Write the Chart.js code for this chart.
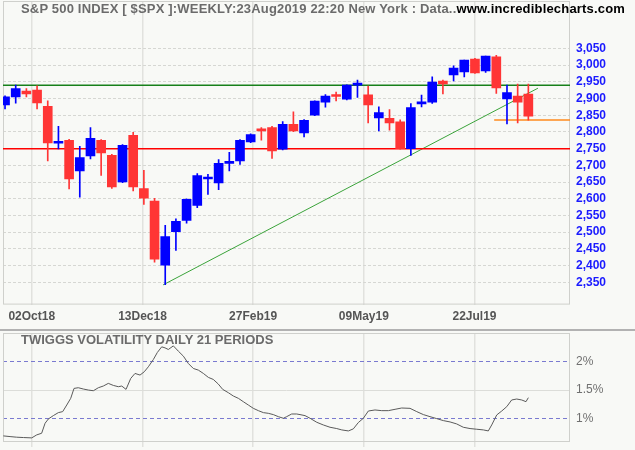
<!DOCTYPE html>
<html>
<head>
<meta charset="utf-8">
<script src="https://cdn.jsdelivr.net/npm/chart.js@4.4.0/dist/chart.umd.min.js"></script>
<style>
  html, body { margin: 0; padding: 0; background: #f8f9f6; }
  #wrap { position: relative; width: 635px; height: 450px; overflow: hidden; font-family: "Liberation Sans", Arial, sans-serif; }
  #price { position: absolute; left: 0; top: 0; }
  #vol { position: absolute; left: 0; top: 331px; }
  #sep { position: absolute; left: 0; top: 329px; width: 635px; height: 2px; background: #b2b2b2; }
  .title { position: absolute; left: 21px; font-weight: bold; font-size: 13px; line-height: 13px; color: #6b6b6b; white-space: nowrap; }
</style>
</head>
<body>
<div id="wrap">
  <canvas id="price" width="635" height="331"></canvas>
  <div id="sep"></div>
  <canvas id="vol" width="635" height="119"></canvas>
  <div class="title" style="top:2px; letter-spacing:0.18px">S&amp;P 500 INDEX [ $SPX ]:WEEKLY:23Aug2019 22:20 New York : Data..<span style="color:#000">www.incrediblecharts.com</span></div>
  <div class="title" style="top:333px">TWIGGS VOLATILITY DAILY 21 PERIODS</div>
</div>
<script>
// weekly candles, Sep 2018 - 23 Aug 2019
const opens  = [2881, 2905, 2922, 2925, 2877, 2766, 2775, 2683, 2728, 2775,
                2730, 2650, 2790, 2630, 2593, 2401, 2501, 2535, 2580, 2659,
                2647, 2706, 2713, 2770, 2806, 2813, 2748, 2823, 2797, 2850,
                2889, 2908, 2898, 2940, 2911, 2842, 2841, 2830, 2750, 2884,
                2889, 2952, 2971, 2980, 3018, 2983, 3025, 2899, 2907, 2913];
const highs  = [2908, 2940, 2930, 2938, 2893, 2817, 2778, 2757, 2813, 2777,
                2733, 2762, 2799, 2685, 2601, 2520, 2540, 2600, 2675, 2673,
                2717, 2739, 2777, 2794, 2813, 2817, 2831, 2860, 2837, 2893,
                2912, 2919, 2941, 2955, 2937, 2875, 2867, 2836, 2885, 2910,
                2965, 2955, 2998, 3015, 3020, 3027, 3029, 2940, 2943, 2943];
const lows   = [2869, 2886, 2905, 2869, 2713, 2749, 2629, 2605, 2719, 2670,
                2631, 2648, 2623, 2583, 2410, 2343, 2445, 2527, 2573, 2613,
                2627, 2683, 2703, 2768, 2775, 2721, 2746, 2801, 2785, 2849,
                2874, 2893, 2896, 2903, 2827, 2803, 2805, 2748, 2730, 2875,
                2885, 2914, 2953, 2965, 2975, 2978, 2915, 2824, 2827, 2835];
const closes = [2905, 2930, 2914, 2887, 2767, 2768, 2659, 2723, 2781, 2737,
                2635, 2760, 2635, 2602, 2419, 2487, 2532, 2598, 2669, 2665,
                2706, 2709, 2775, 2792, 2803, 2743, 2823, 2803, 2835, 2892,
                2907, 2906, 2940, 2945, 2881, 2858, 2827, 2750, 2873, 2886,
                2949, 2944, 2991, 3015, 2977, 3027, 2932, 2918, 2889, 2847];

const priceTicks = [2350, 2400, 2450, 2500, 2550, 2600, 2650, 2700, 2750, 2800, 2850, 2900, 2950, 3000, 3050];
const tickLabels = ['02Oct18', '13Dec18', '27Feb19', '09May19', '22Jul19'];
const tickWeeks  = [2.5, 12.87, 23.23, 33.6, 43.96];

const resistance = 2940;
const support = 2750;
const lastLow = 2836;
const trendFrom = { x: 14.8, y: 2342 };
const trendTo   = { x: 49.9, y: 2931 };

// Twiggs volatility, daily 21 periods (x in weeks)
const volWeek = [-0.16, 0.47, 1.09, 1.72, 2.5, 2.97, 3.43, 3.75, 4.06, 4.52,
                 4.99, 5.4, 5.78, 6.15, 6.46, 6.86, 7.33, 7.8, 8.27, 8.74,
                 9.2, 9.67, 10.14, 10.61, 10.93, 11.33, 11.77, 12.17, 12.64, 13.04,
                 13.42, 13.89, 14.26, 14.67, 14.98, 15.29, 15.76, 16.23, 16.7, 17.16,
                 17.63, 18.1, 18.57, 19.04, 19.5, 19.97, 20.38, 20.91, 21.38, 21.85,
                 22.31, 22.78, 23.25, 23.72, 24.19, 24.65, 25.12, 25.59, 26.06, 26.37,
                 26.84, 27.31, 27.62, 28.09, 28.56, 29.19, 29.8, 30.43, 31.06, 31.53,
                 32.15, 32.61, 33.08, 33.55, 34.02, 34.64, 35.27, 35.89, 36.52, 37.14,
                 37.92, 38.55, 39.17, 39.79, 40.42, 41.04, 41.67, 42.29, 42.91, 43.54,
                 44.17, 44.79, 45.25, 45.57, 46.04, 46.51, 46.98, 47.44, 47.91, 48.38,
                 48.78, 49.0];
const volPct  = [0.688, 0.676, 0.665, 0.659, 0.653, 0.706, 0.735, 0.912, 0.988, 1.047,
                 1.10, 1.118, 1.235, 1.353, 1.529, 1.541, 1.518, 1.50, 1.488, 1.541,
                 1.571, 1.618, 1.582, 1.559, 1.571, 1.512, 1.706, 1.794, 1.765, 1.824,
                 1.912, 2.041, 2.165, 2.265, 2.247, 2.218, 2.282, 2.188, 2.10, 1.971,
                 1.882, 1.853, 1.794, 1.724, 1.688, 1.606, 1.512, 1.453, 1.394, 1.353,
                 1.294, 1.235, 1.176, 1.135, 1.10, 1.088, 1.065, 1.029, 1.0, 1.029,
                 1.076, 1.076, 1.065, 1.047, 1.0, 0.929, 0.882, 0.841, 0.818, 0.794,
                 0.776, 0.812, 0.924, 1.0, 1.129, 1.147, 1.135, 1.135, 1.159, 1.182,
                 1.176, 1.118, 1.065, 1.029, 0.994, 0.959, 0.935, 0.90, 0.841, 0.818,
                 0.806, 0.794, 0.776, 0.882, 1.059, 1.129, 1.206, 1.324, 1.341, 1.324,
                 1.294, 1.365];
const volTicks = [1, 1.5, 2];

const FONT = '"Liberation Sans", Arial, sans-serif';
const UP = '#0000ff';
const DOWN = '#ff3535';
const X_MIN = -0.19, X_MAX = 52.9;

const candleColors = opens.map((o, i) => closes[i] >= o ? UP : DOWN);

const framePlugin = {
    id: 'frame',
    beforeDatasetsDraw(chart) {
        const { ctx, chartArea: a } = chart;
        ctx.save();
        ctx.strokeStyle = '#cfd0cc';
        ctx.lineWidth = 1;
        ctx.strokeRect(a.left + 0.5, a.top + 0.5, a.right - a.left - 1, a.bottom - a.top - 1);
        ctx.restore();
    }
};

// stop the axes from reserving room for half a label at each end
function noEdgePadding(s) {
    s.paddingTop = 0;
    s.paddingBottom = 0;
    s.paddingLeft = 0;
    s.paddingRight = 0;
}

function xScale(showLabels) {
    return {
        type: 'linear',
        min: X_MIN,
        max: X_MAX,
        offset: false,
        afterBuildTicks: s => { s.ticks = tickWeeks.map(v => ({ value: v })); },
        afterFit: noEdgePadding,
        ticks: {
            display: showLabels,
            autoSkip: false,
            maxRotation: 0,
            color: '#555',
            padding: 5,
            font: { family: FONT, size: 12, weight: 'bold' },
            callback: (v, i) => tickLabels[i]
        },
        grid: { color: '#e1e2de', lineWidth: 1.5, offset: false, drawTicks: !showLabels, tickLength: 5 },
        border: { display: false }
    };
}

new Chart(document.getElementById('price'), {
    type: 'bar',
    data: {
        datasets: [
            {
                data: opens.map((o, i) => ({ x: i, y: [o, closes[i]] })),
                backgroundColor: candleColors,
                barThickness: 9,
                minBarLength: 2,
                grouped: false
            },
            {
                data: lows.map((l, i) => ({ x: i, y: [l, highs[i]] })),
                backgroundColor: candleColors,
                barThickness: 1,
                grouped: false
            },
            {
                type: 'line',
                data: [{ x: X_MIN, y: resistance }, { x: X_MAX, y: resistance }],
                borderColor: '#17801a', borderWidth: 1.5, pointRadius: 0
            },
            {
                type: 'line',
                data: [{ x: X_MIN, y: support }, { x: X_MAX, y: support }],
                borderColor: '#ff0000', borderWidth: 1.5, pointRadius: 0
            },
            {
                type: 'line',
                data: [{ x: 45.8, y: lastLow }, { x: X_MAX, y: lastLow }],
                borderColor: '#ff8a1c', borderWidth: 1.5, pointRadius: 0
            },
            {
                type: 'line',
                data: [trendFrom, trendTo],
                borderColor: '#3aa33a', borderWidth: 1, pointRadius: 0
            }
        ]
    },
    options: {
        responsive: false,
        animation: false,
        layout: { padding: { left: 3, top: 1, right: 0, bottom: 2 } },
        plugins: { legend: { display: false }, tooltip: { enabled: false } },
        scales: {
            x: xScale(true),
            y: {
                position: 'right',
                min: 2283,
                max: 3192,
                afterBuildTicks: s => { s.ticks = priceTicks.map(v => ({ value: v })); },
                afterFit: s => { s.width = 65; noEdgePadding(s); },
                ticks: {
                    color: '#1a1aff',
                    padding: 6,
                    font: { family: FONT, size: 12, weight: 'bold' },
                    callback: v => v.toLocaleString('en-US')
                },
                grid: { color: '#d6d7d3', lineWidth: 1, drawTicks: false },
                border: { display: false, dash: [3, 2] }
            }
        }
    },
    plugins: [framePlugin]
});

new Chart(document.getElementById('vol'), {
    type: 'line',
    data: {
        datasets: [{
            data: volWeek.map((w, i) => ({ x: w, y: volPct[i] })),
            borderColor: '#5a5a5a',
            borderWidth: 1,
            pointRadius: 0,
            tension: 0
        }]
    },
    options: {
        responsive: false,
        animation: false,
        layout: { padding: { left: 3, top: 2, right: 0, bottom: 3 } },
        plugins: { legend: { display: false }, tooltip: { enabled: false } },
        scales: {
            x: xScale(false),
            y: {
                position: 'right',
                min: 0.58,
                max: 2.51,
                afterBuildTicks: s => { s.ticks = volTicks.map(v => ({ value: v })); },
                afterFit: s => { s.width = 65; noEdgePadding(s); },
                ticks: {
                    color: '#707070',
                    padding: 6,
                    font: { family: FONT, size: 12 },
                    callback: v => v + '%'
                },
                grid: {
                    color: c => (c.tick && c.tick.value === 1.5) ? '#dcddd9' : '#7a7ad0',
                    lineWidth: 1,
                    drawTicks: false
                },
                border: {
                    display: false,
                    dash: c => (c.tick && c.tick.value === 1.5) ? [] : [4, 3]
                }
            }
        }
    },
    plugins: [framePlugin]
});
</script>
</body>
</html>
